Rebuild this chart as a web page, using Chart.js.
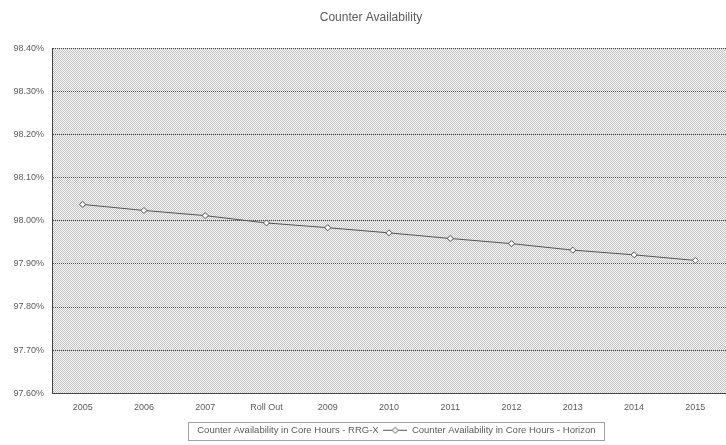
<!DOCTYPE html>
<html lang="en">

<head>
    <meta charset="UTF-8">
    <title>Counter Availability</title>
    <style>
        html, body { margin: 0; padding: 0; background: #fff; }
        #wrap { width: 726px; height: 445px; }
    </style>
</head>

<body>
    <div id="wrap">
        <canvas id="availability-chart" width="726" height="445"></canvas>
    </div>

    <script src="https://cdn.jsdelivr.net/npm/chart.js"></script>

    <script>
        // Categories along the bottom axis
        const years = ['2005', '2006', '2007', 'Roll Out', '2009', '2010', '2011', '2012', '2013', '2014', '2015'];

        // Availability in core hours (%), one value per category
        const rrgX = [null, null, null, null, null, null, null, null, null, null, null];
        const horizon = [98.038, 98.024, 98.012, 97.995, 97.984, 97.972, 97.959, 97.947, 97.932, 97.921, 97.908];

        // Y axis range
        const yMin = 97.6;
        const yMax = 98.4;
        const yStep = 0.1;

        const textColor = '#5a5a5a';
        const lineColor = '#555555';
        const legendShift = 19;
        const titleShift = 8;
        const swatchW = 24;

        // dithered grey used behind the plot
        function makePattern() {
            const c = document.createElement('canvas');
            c.width = 2; c.height = 2;
            const g = c.getContext('2d');
            g.fillStyle = '#f8f8f8';
            g.fillRect(0, 0, 2, 2);
            g.fillStyle = '#c2c2c2';
            g.fillRect(0, 0, 1, 1);
            g.fillRect(1, 1, 1, 1);
            return g.createPattern(c, 'repeat');
        }

        // legend swatch: short line with a diamond marker
        function lineSwatch() {
            const c = document.createElement('canvas');
            c.width = swatchW; c.height = 9;
            const g = c.getContext('2d');
            g.strokeStyle = lineColor;
            g.lineWidth = 1;
            g.beginPath();
            g.moveTo(0, 4.5); g.lineTo(swatchW, 4.5);
            g.stroke();
            g.fillStyle = '#fff';
            g.beginPath();
            g.moveTo(12, 1.5); g.lineTo(15, 4.5); g.lineTo(12, 7.5); g.lineTo(9, 4.5); g.closePath();
            g.fill(); g.stroke();
            return c;
        }

        function blankSwatch() {
            const c = document.createElement('canvas');
            c.width = 2; c.height = 9;
            return c;
        }

        const ctx = document.getElementById('availability-chart').getContext('2d');
        const plotFill = makePattern();

        // fills the plot area, places title and legend, draws the legend's dotted frame
        const decorations = {
            id: 'decorations',
            afterLayout(chart) {
                const w = chart.width;
                chart.legend.left = legendShift;
                chart.legend.right = w + legendShift;
                chart.titleBlock.left = titleShift;
                chart.titleBlock.right = w + titleShift;
            },
            beforeDraw(chart) {
                const a = chart.chartArea;
                const g = chart.ctx;
                g.save();
                g.fillStyle = plotFill;
                g.fillRect(a.left, a.top, a.right - a.left, a.bottom - a.top);
                g.restore();
            },
            afterDraw(chart) {
                const boxes = chart.legend.legendHitBoxes;
                if (!boxes || !boxes.length) return;
                const first = boxes[0];
                const last = boxes[boxes.length - 1];
                const x0 = Math.round(first.left + swatchW - 4) + 0.5;
                const x1 = Math.round(last.left + last.width + 8) + 0.5;
                const y0 = Math.round(first.top) - 3.5;
                const g = chart.ctx;
                g.save();
                g.strokeStyle = '#444';
                g.lineWidth = 1;
                g.setLineDash([1, 1]);
                g.strokeRect(x0, y0, x1 - x0, 18);
                g.restore();
            }
        };

        new Chart(ctx, {
            type: 'line',
            data: {
                labels: years,
                datasets: [{
                    label: 'Counter Availability in Core Hours - RRG-X',
                    data: rrgX,
                    borderColor: lineColor,
                    borderWidth: 1
                }, {
                    label: 'Counter Availability in Core Hours - Horizon',
                    data: horizon,
                    borderColor: lineColor,
                    backgroundColor: '#fff',
                    borderWidth: 1,
                    pointStyle: 'rectRot',
                    pointRadius: 3,
                    pointBorderWidth: 1,
                    pointBackgroundColor: '#fff',
                    tension: 0
                }]
            },
            options: {
                responsive: false,
                animation: false,
                layout: { padding: 0, autoPadding: false },
                plugins: {
                    title: {
                        display: true,
                        text: 'Counter Availability',
                        color: textColor,
                        font: { family: 'Liberation Sans', size: 12, weight: 'normal' },
                        padding: { top: 10, bottom: 24 }
                    },
                    legend: {
                        position: 'bottom',
                        labels: {
                            color: textColor,
                            font: { family: 'Liberation Sans', size: 9.5 },
                            usePointStyle: true,
                            pointStyleWidth: swatchW,
                            generateLabels(chart) {
                                const items = Chart.defaults.plugins.legend.labels.generateLabels(chart);
                                items[0].pointStyle = blankSwatch();
                                items[1].pointStyle = lineSwatch();
                                return items;
                            },
                            boxHeight: 9,
                            padding: 4.5
                        }
                    },
                    tooltip: { enabled: false }
                },
                scales: {
                    x: {
                        offset: true,
                        grid: { display: false, drawTicks: false },
                        border: { color: '#444', dash: [1, 1] },
                        ticks: {
                            color: textColor,
                            font: { family: 'Liberation Sans', size: 9 },
                            padding: 8.5,
                            maxRotation: 0,
                            autoSkip: false
                        }
                    },
                    y: {
                        min: yMin,
                        max: yMax,
                        afterFit(scale) { scale.width = 52; },
                        grid: { color: '#444', drawTicks: false },
                        border: { color: '#444', dash: [1, 1] },
                        ticks: {
                            stepSize: yStep,
                            color: textColor,
                            font: { family: 'Liberation Sans', size: 9 },
                            padding: 8,
                            callback: v => v.toFixed(2) + '%'
                        }
                    }
                }
            },
            plugins: [decorations]
        });
    </script>
</body>

</html>
